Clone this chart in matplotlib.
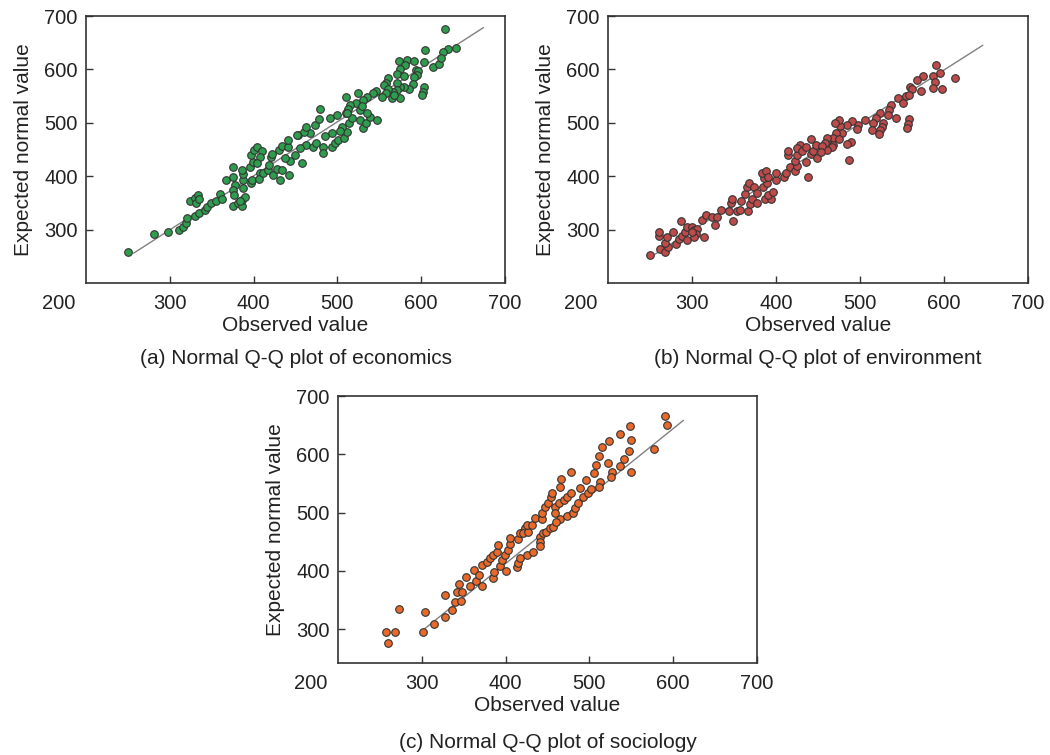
import numpy as np
import matplotlib
matplotlib.use("Agg")
import matplotlib.pyplot as plt

plt.rcParams['font.family'] = ['Liberation Sans', 'DejaVu Sans']

# (a) economics: observed, expected
econ_x = [628, 642, 631.6, 625.6, 604, 603, 614.5, 621.6, 624, 573, 583.5, 592, 581, 574.7,
          570.7, 579.5, 593.8, 596, 594.6, 592, 590, 585, 579.5, 575, 571.5, 571.5, 566.7,
          560.8, 558, 555.6, 560.8, 558, 553, 564.7, 574.7, 567.5, 603, 601.7, 601, 546, 542,
          535.7, 531, 525, 522, 510, 515, 513, 510, 479.2, 527, 529,
          249.7, 281, 298, 311, 316, 319, 321, 330, 335, 341.6, 344.8, 324, 330, 334, 331, 335,
          349, 355, 360, 362, 367, 376, 375, 378, 375, 376.6, 375.8, 381.7, 385.7, 385.7, 389.7,
          383.7, 386.9, 387.7, 387, 385.7, 396.5, 397.7, 395.7, 399.6, 396.5, 400.4, 403.6,
          409.6, 407.6, 403.6, 407.6, 406.8, 411.6, 417.5, 418.7, 420.3, 421.5, 423.5, 427.5,
          431.5, 433.5, 430.7, 433.5, 441.4, 441.4, 442.6, 443.4, 437.4, 449.4, 453.3,
          458, 462, 455, 471, 475, 483, 482.4, 493, 497, 501, 507.8, 511.8, 505, 503, 493, 485,
          467, 460, 451.4, 463, 473, 478, 491, 500, 514, 517, 527, 530, 534, 539, 547, 511, 535.7]
econ_y = [676, 641, 637.5, 632, 636, 614, 604, 611, 620.7, 616, 617, 616, 609, 600,
          591, 588, 598.8, 597.6, 589.5, 585, 572.6, 564, 567.6, 567.6, 575, 561, 558,
          583, 575, 570.8, 562.6, 555, 547.6, 545.8, 545.8, 552, 567.6, 558, 552, 560, 555,
          549, 542.7, 556, 537.7, 549, 533, 525, 517.7, 525, 524, 531.4,
          258, 291, 296, 299, 305, 311.7, 321, 325.5, 331.7, 336.7, 341.7, 354, 358.5, 364.8, 349, 356.7,
          350, 354, 366, 356.7, 393, 416.6, 399, 383.5, 374, 364.8, 344, 349, 344, 355.4, 361.7,
          354, 377.3, 392.9, 405, 411.6, 386.6, 392.9, 417.8, 427, 439.7, 449, 454,
          447.8, 436.6, 424, 405.4, 394, 406.6, 411.6, 421, 435.3, 441.6, 402.2, 412.8,
          392.9, 411.6, 449, 456.5, 455.3, 467.8, 402.2, 429, 433.4, 439.7, 477,
          425.4, 458.5, 452, 454, 461.6, 454, 443, 455, 461.6, 468, 471, 483.4, 492.8, 485, 481.6, 475.3,
          481.6, 483.4, 477, 492.8, 496, 506.5, 508.4, 514.6, 499, 508.4, 505, 489.7, 500, 511.5, 505, 519, 519]
econ_line_x = [257, 674]
econ_line_y = [256, 678]

# (b) environment
env_x = [250, 262, 268, 272, 268, 270, 261, 261, 277, 281, 284, 288, 292, 294.5, 287, 294.5,
         299.6, 302.4, 305.6, 305, 302.4, 299.6, 314.3, 311.5, 316.7, 323.4, 330, 327.8, 334,
         344.5, 349, 353.2, 357, 346, 347.3, 358, 367, 369, 371, 377, 363, 365, 368, 374, 377,
         385, 389, 387, 393.7, 391, 397, 400, 400, 386, 383, 388, 391, 409, 412, 417, 422.6,
         424.6, 422.6, 414.7, 414.7, 424.6, 428, 424.6, 430.6, 436, 438.5, 441.3, 441.3, 436,
         444.5, 447.6, 449,
         590.5, 595.3, 613, 587.3, 589.3, 586.5, 597.3, 575.4, 568.3, 572.3, 559.6, 561.5, 554.8,
         558.8, 545.7, 550.8, 536.5, 535, 533.8, 543, 523.8, 519, 516, 527.8, 525.8, 523.8, 523,
         514, 558.8, 557.6, 555.6, 506, 498, 496, 490, 484, 476, 475.4, 470, 478, 471.5, 468.3,
         461, 475.4, 487.3, 489, 484, 468, 466.3, 461, 458.4, 454.4, 453.2]
env_y = [252.4, 263.6, 258.7, 266.8, 275.5, 285.5, 288, 296, 296, 273, 282, 288, 296, 305.5, 316, 280.5,
         305.5, 299, 302, 291.7, 285.5, 296, 286.7, 318, 327.3, 323, 323, 308, 336.7,
         334.8, 316.7, 335.4, 336.7, 349, 357, 354, 335.4, 348, 356.7, 349, 366.6, 379, 388, 380.4, 369,
         379, 386.6, 357.3, 356.7, 364.8, 371, 393, 405.3, 396, 405.3, 410.3, 399, 399, 406.6, 416.6, 410.3,
         419, 429, 439.7, 447.8, 439.7, 458.4, 452, 447.8, 427, 399, 441.6, 469, 455.3,
         447.8, 458.4, 433.4,
         609, 592.6, 583.9, 588.2, 575.7, 565.8, 562.6, 588.2, 580, 559.5, 566.4, 563.3, 550,
         552, 545.8, 537.7, 533.3, 524, 514.6, 508.3, 517.7, 508.3, 499, 500, 491.5, 486.5, 478.4,
         486.5, 506.5, 497.7, 489.6, 505.2, 495.8, 487.7, 503.3, 495.8, 494.6, 505.2, 499, 480.2, 481.5, 472,
         472, 469, 430.3, 464.6, 459.6, 458.4, 455, 449, 461.5, 456.5, 446]
env_line_x = [253, 646]
env_line_y = [251, 645]

# (c) sociology
soc_x = [257.5, 259.5, 268, 273,
         302, 303.9, 314.6, 327.7, 327.7, 335.6, 339.6, 341.6, 344.7, 347.5, 346.3, 352.3, 357.4,
         362, 364.6, 368.5, 371.3, 371.3, 377.3, 381.2, 384.4, 386, 385.2, 390, 391.2, 393, 396.3,
         399, 400.3, 403, 405.8, 405.8, 415, 413.8, 415, 417.7, 425.7, 432.8, 417, 423, 421, 427,
         425, 432, 434.8, 444, 444, 446.7, 450.7, 454.6, 455.8, 465.4, 465.8, 478.5, 459.4, 459.4,
         463.8, 469.3, 473.3, 478.5, 465.4, 473.3, 480.4, 482.4, 486.4, 488.4, 492.3, 496.3, 498.3,
         441.6, 440.8, 440.8, 444.7, 448.7, 452.7, 456.6, 460.6,
         590.8, 592.8, 576.9, 547.9, 536, 523, 515.4, 549.9, 546.7, 511, 508.3, 505, 522.1, 540.8,
         536, 526.5, 526.1, 549.1, 513, 511.4, 502.3]
soc_y = [294.4, 277, 294.4, 334.3,
         295.4, 329.8, 309.7, 321.2, 358.4, 332.6, 347, 363, 377.3, 363, 348.7, 389.9, 374.4,
         401.3, 383, 392.7, 374.4, 409.9, 415.6, 421.3, 387, 398.4, 427, 432.8, 444.2, 408.2, 418.5,
         427, 399.6, 435.6, 446, 455.7, 454, 405.9, 413.9, 421.3, 427, 432.8, 465.4, 472.8, 464.2, 467.1,
         478.5, 478.5, 490, 488.3, 499.7, 508.9, 515.7, 526, 534, 544.4, 557, 570.1, 510, 499.7,
         515.7, 521.5, 527.2, 532.9, 488.3, 494, 498.6, 507.2, 515.7, 541.5, 527.2, 555.8, 534,
         458.5, 449.9, 442.5, 464.2, 467.1, 472.8, 475.7, 484.3,
         666.2, 650.2, 609, 648.5, 634.8, 622.7, 611.9, 624.5, 605.6, 597.6, 581.6, 567.2, 585.6, 591.3,
         580.4, 570.1, 560.4, 569, 553, 544.4, 539.8]
soc_line_x = [301, 612]
soc_line_y = [298, 658]

ticks = [300, 400, 500, 600, 700]
W, H = 1050, 755
fig = plt.figure(figsize=(W / 100, H / 100), dpi=100)


def panel(px_left, px_top, px_w, px_h, xs, ys, lx, ly, color, ylim, caption, cap_y):
    ax = fig.add_axes([px_left / W, 1 - (px_top + px_h) / H, px_w / W, px_h / H])
    ax.plot(lx, ly, color='#808080', lw=1.0, zorder=1)
    ax.scatter(xs, ys, s=30, c=color, edgecolors='#333333', linewidths=0.8, zorder=2)
    ax.set_xlim(200, 700)
    ax.set_ylim(*ylim)
    ax.set_xticks(ticks)
    ax.set_yticks(ticks)
    ax.tick_params(direction='in', length=5, width=1, colors='#333333', labelsize=14.5,
                   labelcolor='#222222')
    ax.tick_params(axis='x', pad=8)
    ax.tick_params(axis='y', pad=6)
    for s in ax.spines.values():
        s.set_linewidth(1.2)
        s.set_color('#333333')
    ax.text(-0.065, 0, '200', transform=ax.transAxes, fontsize=14.5, color='#222222',
            ha='center', va='top').set_y(-0.04)
    ax.set_xlabel('Observed value', fontsize=15, color='#222222', labelpad=2)
    ax.set_ylabel('Expected normal value', fontsize=15, color='#222222', labelpad=8)
    fig.text((px_left + px_w / 2) / W, 1 - cap_y / H, caption, fontsize=15,
             color='#222222', ha='center', va='center')
    return ax


panel(86, 16, 419, 267, econ_x, econ_y, econ_line_x, econ_line_y, '#2e9e4e', (200, 700),
      '(a) Normal Q-Q plot of economics', 358)
panel(608, 16, 420, 267, env_x, env_y, env_line_x, env_line_y, '#bf4a4a', (200, 700),
      '(b) Normal Q-Q plot of environment', 358)
panel(338, 396, 419, 267, soc_x, soc_y, soc_line_x, soc_line_y, '#e8692a', (242, 700),
      '(c) Normal Q-Q plot of sociology', 742)

fig.savefig('out.png', dpi=100)
